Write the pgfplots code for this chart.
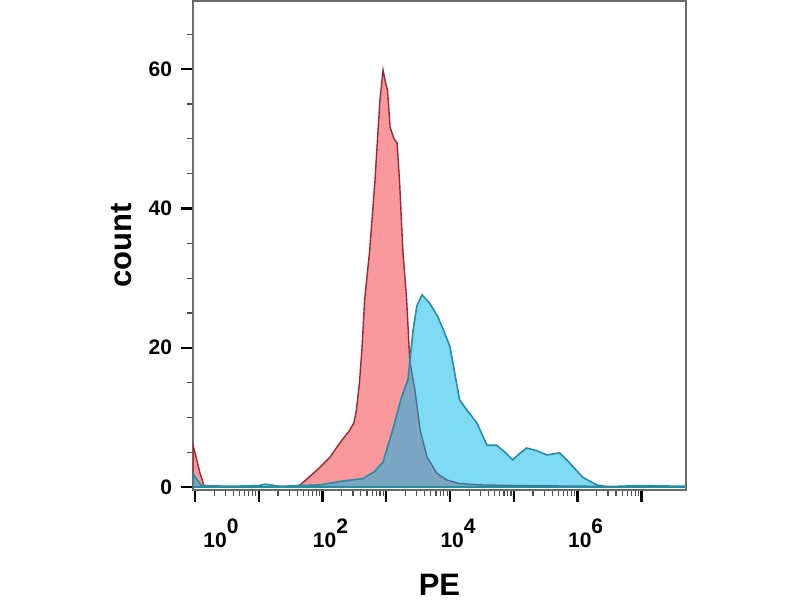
\documentclass[border=0pt]{standalone}
\usepackage{pgfplots}
\pgfplotsset{compat=1.18}
\usepackage{fontspec}
\setmainfont{Liberation Sans}
\definecolor{redbase}{RGB}{244,50,60}
\definecolor{redline}{RGB}{150,40,55}
\definecolor{cyanbase}{RGB}{0,182,232}
\definecolor{cyanline}{RGB}{40,140,160}
\definecolor{axgray}{RGB}{105,105,105}
\newcommand{\dec}[1]{\bfseries 10\raisebox{7pt}{#1}}
\begin{document}
\begin{tikzpicture}
\useasboundingbox (0,0) rectangle (400pt,300pt);
\begin{axis}[
  at={(96.5pt,55pt)}, anchor=south west,
  width=246.5pt, height=244.5pt, scale only axis,
  xmode=log, xmin=0.933, xmax=5e7,
  ymin=-0.43, ymax=69.8,
  xtick={1,10,100,1000,10000,100000,1000000,10000000},
  xticklabels={{\hspace{18pt}\dec{0}},,\dec{2},,\dec{4},,\dec{6},},
  ytick={0,20,40,60},
  minor ytick={5,10,15,25,30,35,45,50,55,65},
  tick pos=left,
  tick align=outside,
  major tick length=6pt, minor tick length=3pt,
  every major tick/.style={black, line width=1.2pt},
  every minor tick/.style={black!70, line width=0.6pt},
  axis line style={draw=axgray, line width=1pt},
  tick label style={font=\fontsize{10.5}{11}\selectfont\bfseries},
  /pgf/number format/assume math mode=true,
  xticklabel style={yshift=-5pt, xshift=4pt},
  yticklabel style={xshift=-1pt},
  xlabel={PE}, ylabel={count},
  label style={font=\fontsize{15.5}{18}\selectfont\bfseries},
  xlabel style={at={(axis description cs:0.5,-0.194)}, anchor=center},
  ylabel style={at={(axis description cs:-0.144,0.5)}, anchor=center},
]
\addplot[fill=redbase, fill opacity=0.5, draw=redline, line width=0.7pt] coordinates {
(0.933,6) (1,5) (1.2,2) (1.41,0) (30.9,0) (44.7,0.3) (81.3,2.4) (131.8,4.3)
(186.2,6.3) (269.2,8.2) (310,9.2) (340,11) (380,15) (416.9,20) (457.1,26.8)
(549.5,34) (660.7,43.6) (794.3,55.5) (891.3,59.9) (977.2,58) (1047,57)
(1148,51.7) (1318,50) (1479,49.4) (1622,43.6) (1820,34) (2089,26.8)
(2344,18) (2818,13.9) (3388,8.2) (4365,4.3) (6166,2) (8913,1) (14125,0.5)
(29512,0.3) (123027,0.2) (2238721,0.1) (4570882,0)
} \closedcycle;
\addplot[fill=cyanbase, fill opacity=0.5, draw=cyanline, line width=0.8pt] coordinates {
(0.933,2) (1,1.5) (1.26,0.2) (3.55,0.1) (10,0.2) (12.6,0.4) (21.4,0.1)
(91.2,0.3) (186.2,0.8) (426.6,1.2) (650,2.2) (891.3,3.6) (1259,8.2) (1738,12.9)
(2188,15.4) (2630,22.5) (3020,26) (3631,27.6) (4786,26.4) (6457,24.4)
(7943,22.5) (10000,20.1) (12023,16) (14125,12.5) (18197,11.1) (26303,9.2)
(38019,6) (53703,6) (72444,5) (95499,3.9) (123027,4.8) (158489,5.6)
(229087,5.2) (331131,4.6) (524807,4.9) (758578,3.4) (1202264,1.4)
(1995262,0.3) (2884032,0.05) (9332543,0.2) (5e7,0.1)
} \closedcycle;
\end{axis}
\end{tikzpicture}
\end{document}
